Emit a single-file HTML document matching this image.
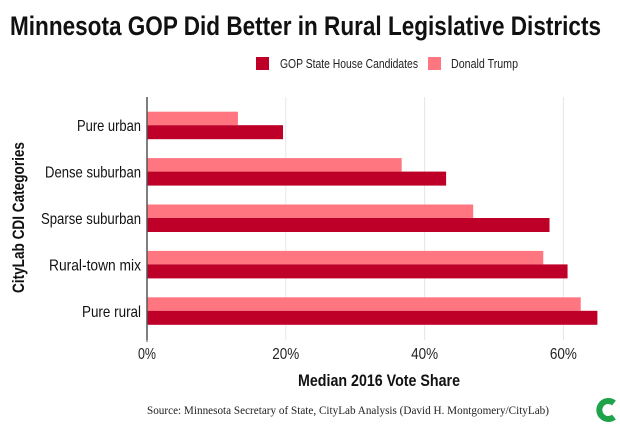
<!DOCTYPE html>
<html><head><meta charset="utf-8"><style>
html,body{margin:0;padding:0;background:#fff;}
body{width:620px;height:428px;overflow:hidden;}
svg text{font-family:"Liberation Sans",sans-serif;}
</style></head><body>
<svg id="chart" width="620" height="428" xmlns="http://www.w3.org/2000/svg">
<text x="10" y="35" font-size="27" font-weight="bold" fill="#111" textLength="591" lengthAdjust="spacingAndGlyphs">Minnesota GOP Did Better in Rural Legislative Districts</text>
<g>
<rect x="256" y="57" width="13" height="13" fill="#be0028"/>
<text x="280" y="68" font-size="13" fill="#222" textLength="138" lengthAdjust="spacingAndGlyphs">GOP State House Candidates</text>
<rect x="428" y="57" width="13" height="13" fill="#ff7680"/>
<text x="451" y="68" font-size="13" fill="#222" textLength="67" lengthAdjust="spacingAndGlyphs">Donald Trump</text>
</g>
<g id="grid"></g>
<g id="bars"></g>
<g id="labels"></g>
<line x1="147" y1="97" x2="147" y2="340" stroke="#555" stroke-width="1.5"/>
<text x="298" y="386" font-size="17" font-weight="bold" fill="#111" textLength="162" lengthAdjust="spacingAndGlyphs">Median 2016 Vote Share</text>
<text transform="translate(24,293) rotate(-90)" font-size="17" font-weight="bold" fill="#111" textLength="151" lengthAdjust="spacingAndGlyphs">CityLab CDI Categories</text>
<text x="147" y="414" font-size="11.5" fill="#222" textLength="402" lengthAdjust="spacingAndGlyphs" style="font-family:'Liberation Serif',serif">Source: Minnesota Secretary of State, CityLab Analysis (David H. Montgomery/CityLab)</text>
<path d="M614 403 A9 9 0 1 0 614 417" fill="none" stroke="#1fa34a" stroke-width="6"/>
</svg>
<script>
const categories=["Pure urban","Dense suburban","Sparse suburban","Rural-town mix","Pure rural"];
const trumpValues=[13.1,36.7,47.0,57.1,62.5];
const gopValues=[19.6,43.1,58.0,60.6,64.9];
const tickValues=[0,20,40,60];
const tickLabels=["0%","20%","40%","60%"];
const NS="http://www.w3.org/2000/svg";
const x0=147,pxPer=6.94,top0=111.7,step=46.4,bh=13.5;
const labelW={"Pure urban":64,"Dense suburban":96,"Sparse suburban":100,"Rural-town mix":92,"Pure rural":59};
const xs=v=>x0+v*pxPer;
const yc=i=>top0+i*step;
function mk(tag,attrs,parent){const e=document.createElementNS(NS,tag);for(const k in attrs)e.setAttribute(k,attrs[k]);parent.appendChild(e);return e;}
const grid=document.getElementById('grid'),bars=document.getElementById('bars'),labels=document.getElementById('labels');
tickValues.forEach((t,i)=>{
  if(t>0){const g=mk('line',{x1:xs(t),x2:xs(t),y1:97,y2:340,stroke:'#e6e6e6','stroke-width':1},grid);
  
  }
  const tx=mk('text',{x:xs(t),y:359,'font-size':16,'text-anchor':'middle',fill:'#222',textLength:tickLabels[i].length*9,lengthAdjust:'spacingAndGlyphs'},labels);
  tx.textContent=tickLabels[i];
  
  
});
mk('line',{x1:x0,x2:x0,y1:337,y2:342,stroke:'#555'},labels);
categories.forEach((c,i)=>{
  const y=yc(i);
  const r1=mk('rect',{x:x0,y:y,width:xs(trumpValues[i])-x0,height:bh,fill:'#ff7680'},bars);
  
  
  const r2=mk('rect',{x:x0,y:y+bh,width:xs(gopValues[i])-x0,height:bh+0.5,fill:'#be0028'},bars);
  
  
  const t=mk('text',{x:141,y:y+bh+6,'font-size':16,'text-anchor':'end',fill:'#111',textLength:labelW[c]||c.length*6.6,lengthAdjust:'spacingAndGlyphs'},labels);
  t.textContent=c;
  
  
});
</script>
</body></html>
